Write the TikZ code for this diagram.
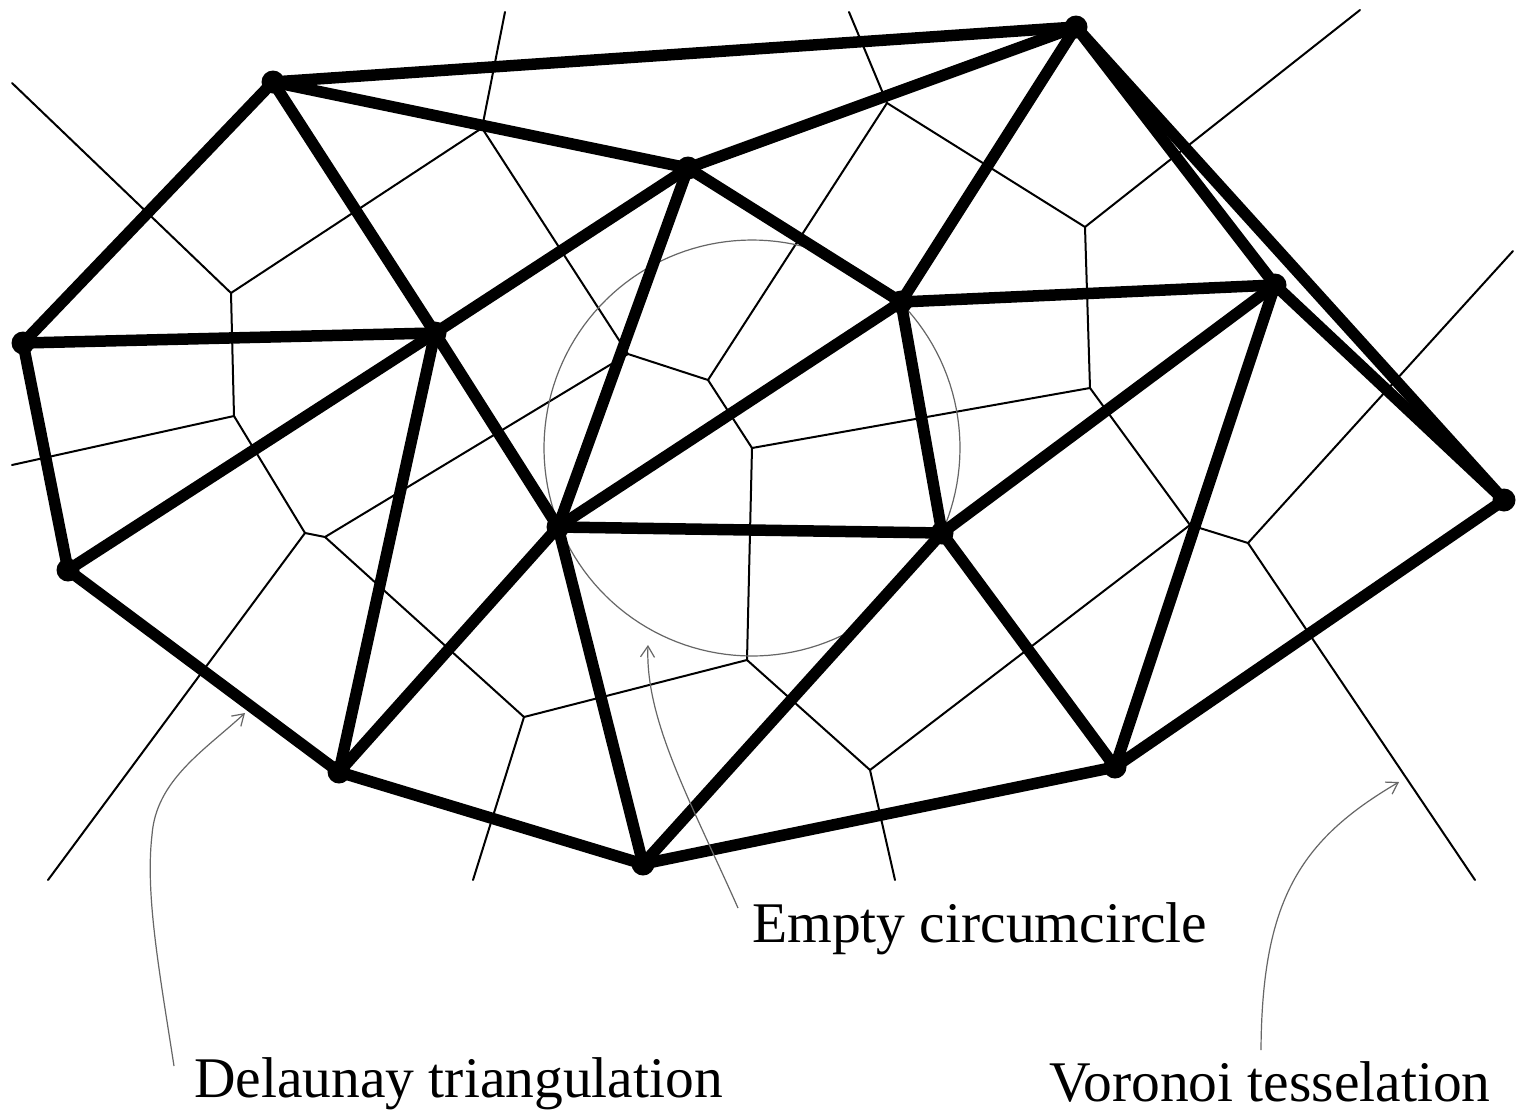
\documentclass[tikz,border=0pt]{standalone}
\usepackage{fontspec}
\setmainfont{Liberation Serif}
\usetikzlibrary{arrows.meta}
\begin{document}
\begin{tikzpicture}[x=1pt,y=-1pt,
  vor/.style={line width=2pt, line cap=round},
  del/.style={line width=11.5pt, line cap=round, line join=round},
  site/.style={circle, fill=black, inner sep=0pt, minimum size=23pt},
  circum/.style={line width=1.2pt, draw=black!60},
  callout/.style={line width=1.2pt, draw=black!60, -{Straight Barb[length=11pt,width=14pt]}},
  lbl/.style={anchor=base west, inner sep=0pt, font=\fontsize{57.5pt}{60pt}\selectfont}]
\useasboundingbox[fill=white] (0,0) rectangle (1516,1114);

% Delaunay sites
\coordinate (P1) at (273,82);
\coordinate (P2) at (1076,27);
\coordinate (P3) at (688,168);
\coordinate (P4) at (23,343);
\coordinate (P5) at (435,333);
\coordinate (P6) at (901,302);
\coordinate (P7) at (1275,285);
\coordinate (P8) at (1504,500);
\coordinate (P9) at (68,570);
\coordinate (P10) at (558,527);
\coordinate (P11) at (942,533);
\coordinate (P12) at (339,772);
\coordinate (P13) at (643,864);
\coordinate (P14) at (1115,767);

% Voronoi vertices
\coordinate (Va) at (231,293);
\coordinate (Vb) at (482,128);
\coordinate (Vc) at (234,416);
\coordinate (Vd) at (305,533);
\coordinate (Ve) at (325,537);
\coordinate (Vf) at (524,717);
\coordinate (Vg) at (747,660);
\coordinate (Vh) at (752,448);
\coordinate (Vi) at (708,380);
\coordinate (Vp) at (628,354);
\coordinate (Vj) at (1090,388);
\coordinate (Vk) at (870,770);
\coordinate (Vl) at (1190,525);
\coordinate (Vm) at (1248,543);
\coordinate (Vn) at (1085,227);
\coordinate (Vo) at (887,103);
% ray ends
\coordinate (Ra) at (12,83);
\coordinate (Rb) at (505,12);
\coordinate (Rc) at (849,12);
\coordinate (Rd) at (1360,10);
\coordinate (Re) at (1513,251);
\coordinate (Rf) at (1475,880);
\coordinate (Rg) at (895,880);
\coordinate (Rh) at (473,880);
\coordinate (Ri) at (48,880);
\coordinate (Rj) at (12,465);

% Voronoi tesselation
\draw[vor] (Ra) -- (Va) -- (Vb) -- (Rb);
\draw[vor] (Va) -- (Vc) -- (Rj);
\draw[vor] (Vc) -- (Vd) -- (Ri);
\draw[vor] (Vd) -- (Ve) -- (Vp) -- (Vb);
\draw[vor] (Ve) -- (Vf) -- (Rh);
\draw[vor] (Vf) -- (Vg) -- (Vh) -- (Vi) -- (Vp);
\draw[vor] (Vi) -- (Vo) -- (Rc);
\draw[vor] (Vo) -- (Vn) -- (Rd);
\draw[vor] (Vn) -- (Vj) -- (Vh);
\draw[vor] (Vj) -- (Vl) -- (Vk) -- (Vg);
\draw[vor] (Vk) -- (Rg);
\draw[vor] (Vl) -- (Vm) -- (Re);
\draw[vor] (Vm) -- (Rf);

% empty circumcircle
\draw[circum] plot[domain=60:384, samples=140] ({752+208*cos(\x)},{448+208*sin(\x)});

% Delaunay triangulation
\foreach \a/\b in {P1/P2,P1/P3,P1/P4,P1/P5,P2/P3,P2/P6,P2/P7,P2/P8,P3/P5,P3/P6,
  P3/P10,P4/P5,P4/P9,P5/P9,P5/P10,P5/P12,P6/P7,P6/P10,P6/P11,P7/P8,P7/P11,
  P7/P14,P8/P14,P9/P12,P10/P11,P10/P12,P10/P13,P11/P13,P11/P14,P12/P13,P13/P14}
  \draw[del] (\a) -- (\b);
\foreach \p in {1,...,14}
  \node[site] (S\p) at (P\p) {};

% labels
\node[lbl] (tc) at (752,942) {Empty circumcircle};
\node[lbl] (td) at (194,1097) {Delaunay triangulation};
\node[lbl] (tv) at (1049,1101) {Voronoi tesselation};

% callout arrows
\coordinate (ad0) at (174,1066);
\coordinate (ad1) at (152,835);
\coordinate (ad2) at (245,713);
\coordinate (ac0) at (738,908);
\coordinate (ac1) at (648,645);
\coordinate (av0) at (1261,1050);
\coordinate (av1) at (1399,782);
\draw[callout] (ad0) .. controls (160,975) and (145,895) .. (ad1)
  .. controls (156,780) and (205,750) .. (ad2);
\draw[callout] (ac0) .. controls (690,800) and (645,720) .. (ac1);
\draw[callout] (av0) .. controls (1262,900) and (1300,840) .. (av1);
\end{tikzpicture}
\end{document}
